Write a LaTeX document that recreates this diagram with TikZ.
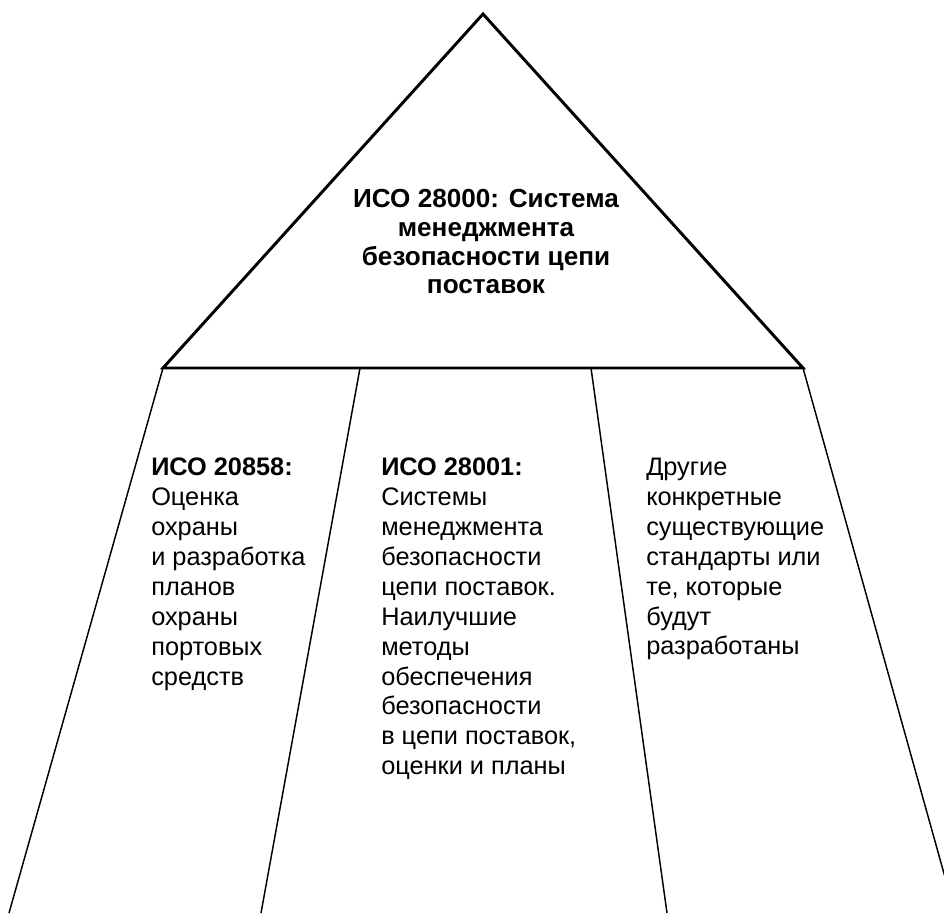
\documentclass[tikz,border=0pt]{standalone}
\usepackage{fontspec}
\setmainfont{Liberation Sans}
\begin{document}
\begin{tikzpicture}[x=0.75pt,y=-0.75pt,
  tri/.style={line width=2.2pt,line join=miter},
  col/.style={line width=1.1pt},
  titletext/.style={inner sep=0pt,anchor=north,align=center,
    font=\fontsize{19.6pt}{21.6pt}\selectfont\bfseries},
  coltext/.style={inner sep=0pt,anchor=north west,align=left,
    font=\fontsize{19pt}{22.4pt}\selectfont}]
\useasboundingbox (0,0) rectangle (944,913);
\clip (0,0) rectangle (944,913);
\coordinate (apex) at (483,14);
\coordinate (bl) at (163,368);
\coordinate (br) at (803,368);
\coordinate (t2) at (360,368);
\coordinate (t3) at (591,368);
\coordinate (b1) at (9,913);
\coordinate (b2) at (261,913);
\coordinate (b3) at (667,913);
\coordinate (b4) at (955,913);
\draw[tri] (apex) -- (br) -- (bl) -- cycle;
\draw[col] (bl) -- (b1);
\draw[col] (t2) -- (b2);
\draw[col] (t3) -- (b3);
\draw[col] (br) -- (b4);
\node[titletext] (title) at (486,189) {ИСО 28000: Система\\менеджмента\\безопасности цепи\\поставок};
\node[coltext] (left) at (151,458) {\textbf{ИСО 20858:}\\Оценка\\охраны\\и разработка\\планов\\охраны\\портовых\\средств};
\node[coltext] (mid) at (381,458) {\textbf{ИСО 28001:}\\Системы\\менеджмента\\безопасности\\цепи поставок.\\Наилучшие\\методы\\обеспечения\\безопасности\\в цепи поставок,\\оценки и планы};
\node[coltext] (right) at (646,458) {Другие\\конкретные\\существующие\\стандарты или\\те, которые\\будут\\разработаны};
\end{tikzpicture}
\end{document}
